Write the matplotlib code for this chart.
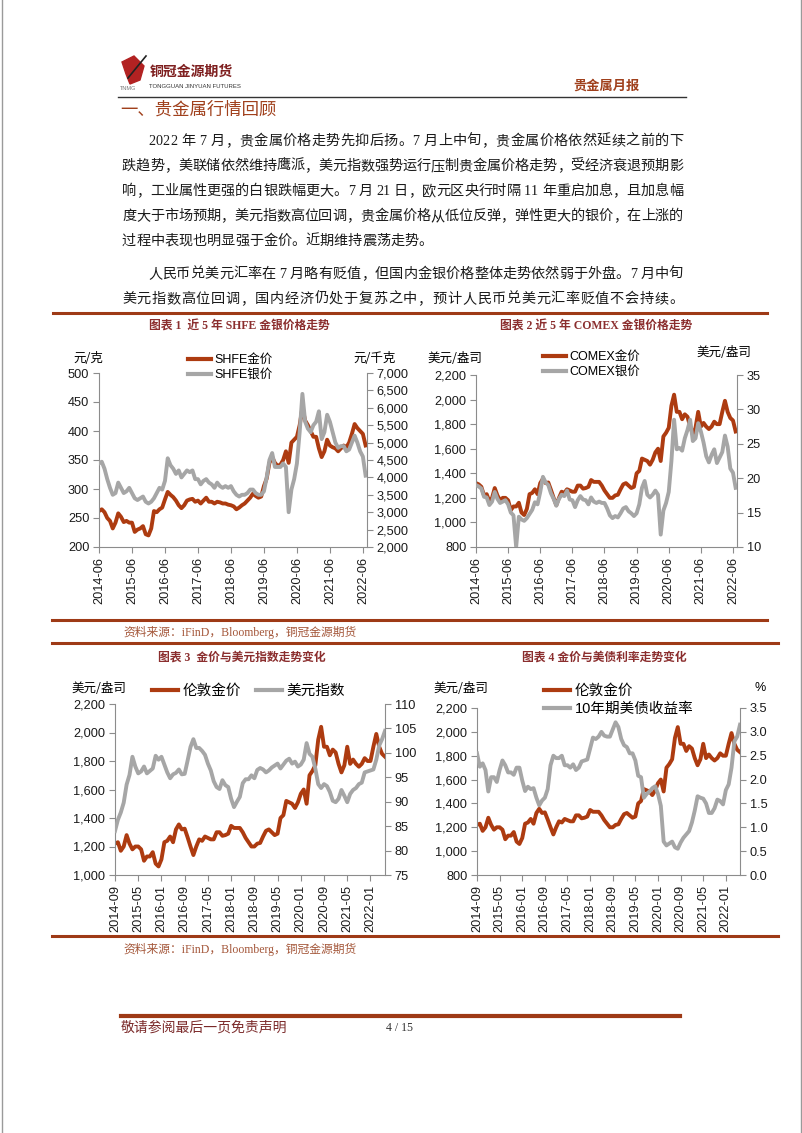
import matplotlib
matplotlib.use('Agg')
import matplotlib.pyplot as plt
import numpy as np
from matplotlib.lines import Line2D
from matplotlib.patches import Polygon
from matplotlib.ticker import FuncFormatter

plt.rcParams['font.family'] = ['Liberation Sans', 'Noto Sans CJK SC']
plt.rcParams['axes.unicode_minus'] = False

# ---- data (monthly) ----
# 2014-06 .. 2022-07
shfe_gold = [262, 265, 260, 250, 245, 232, 242,
             258, 252, 243, 245, 242, 242, 226, 230, 232, 236, 222, 220,
             232, 262, 260, 265, 268, 282, 295, 290, 286, 280, 272, 267,
             272, 280, 282, 283, 278, 280, 275, 280, 285, 278, 278, 275,
             278, 277, 275, 275, 273, 272, 270, 265, 268, 272, 275, 280,
             285, 292, 288, 285, 287, 305, 318, 345, 355, 345, 340, 342,
             350, 365, 345, 380, 385, 390, 410, 440, 418, 410, 400, 390,
             390, 370, 355, 365, 385, 375, 372, 370, 365, 370, 375, 372,
             380, 395, 412, 405, 400, 395, 375]
shfe_silver = [4400, 4450, 4250, 3950, 3700, 3500, 3550,
               3850, 3700, 3550, 3600, 3700, 3550, 3400, 3350, 3400, 3450, 3300, 3250,
               3300, 3400, 3550, 3700, 3650, 3900, 4550, 4350, 4250, 4100, 4200, 4000,
               4100, 4200, 4150, 4200, 3950, 3950, 3800, 3900, 3950, 3850, 3800, 3700,
               3850, 3750, 3700, 3750, 3700, 3750, 3600, 3500, 3450, 3500, 3500, 3550,
               3650, 3650, 3550, 3500, 3500, 3600, 4000, 4500, 4700, 4300, 4300, 4300,
               4400, 4300, 3000, 3650, 3950, 4400, 5300, 6400, 5600, 5400, 5300, 5500,
               5600, 5900, 5100, 5300, 5800, 5600, 5300, 5000, 4850, 4900, 4900, 4750,
               4800, 5000, 5200, 5000, 4750, 4600, 4050]
comex_gold = [1320, 1310, 1290, 1220, 1230, 1170, 1200,
              1280, 1220, 1180, 1200, 1200, 1180, 1100, 1130, 1130, 1160, 1080, 1060,
              1110, 1230, 1240, 1270, 1230, 1320, 1355, 1320, 1325, 1265, 1200, 1140,
              1200, 1250, 1240, 1270, 1260, 1250, 1250, 1300, 1300, 1275, 1280, 1290,
              1345, 1330, 1330, 1330, 1300, 1260, 1230, 1200, 1200, 1220, 1225, 1270,
              1310, 1320, 1300, 1280, 1290, 1400, 1420, 1520, 1510, 1500, 1470, 1510,
              1570, 1600, 1500, 1700, 1730, 1770, 1950, 2040, 1900, 1900, 1840, 1880,
              1860, 1780, 1720, 1770, 1900, 1780, 1810, 1780, 1760, 1780, 1820, 1800,
              1800, 1900, 1990, 1900, 1850, 1830, 1740]
comex_silver = [19.0, 18.8, 18.5, 17.3, 17.2, 16.1, 16.6,
                18.0, 17.0, 16.4, 16.6, 16.8, 16.2, 15.0, 14.6, 10.0, 14.4, 14.0, 13.8,
                14.2, 14.8, 15.4, 16.5, 16.2, 18.0, 20.2, 19.4, 19.0, 17.8, 17.0, 16.0,
                17.0, 17.6, 17.4, 18.2, 16.9, 16.8, 15.8, 16.8, 17.4, 16.9, 16.8, 16.2,
                17.2, 16.6, 16.4, 16.6, 16.4, 16.4, 15.6, 14.6, 14.2, 14.5, 14.3, 14.9,
                15.6, 15.8, 15.2, 14.9, 14.5, 14.9, 16.2, 18.6, 19.6, 17.6, 17.2, 17.6,
                18.2, 17.6, 11.8, 15.3, 16.4, 18.0, 22.5, 28.5, 24.2, 24.4, 24.0, 25.8,
                27.0, 28.5, 25.4, 25.8, 28.0, 26.8, 25.2, 23.2, 22.3, 23.4, 24.2, 22.2,
                23.0, 23.8, 26.2, 24.6, 21.4, 20.8, 18.6]
# 2014-09 .. 2022-06
london_gold = comex_gold[3:97]
usd_index = [84.0, 86.3, 87.8, 89.8,
             93.5, 95.5, 99.2, 97.2, 95.8, 96.2, 97.2, 95.8, 96.3, 96.8, 99.4, 98.6,
             99.2, 97.6, 96.0, 94.8, 95.6, 95.9, 96.6, 95.6, 95.7, 98.4, 101.2, 102.8,
             101.0, 101.0, 100.4, 99.6, 97.8, 96.4, 94.2, 93.0, 92.6, 94.4, 93.4, 93.0,
             90.6, 88.9, 90.0, 91.0, 93.8, 94.6, 94.6, 95.4, 94.8, 96.5, 96.9, 96.6,
             96.0, 96.4, 97.0, 97.4, 97.8, 96.8, 97.6, 98.4, 98.8, 97.8, 98.2, 97.2,
             97.6, 98.6, 102.0, 99.8, 99.2, 96.8, 93.6, 92.8, 93.6, 93.2, 92.0, 90.2,
             89.9, 90.6, 92.4, 91.2, 89.9, 91.6, 92.4, 92.8, 93.6, 93.9, 96.0, 96.2,
             96.4, 96.6, 98.6, 101.5, 102.8, 104.5]
ust10y = [2.55, 2.27, 2.34, 2.20,
          1.75, 2.05, 2.05, 1.95, 2.20, 2.40, 2.30, 2.15, 2.15, 2.10, 2.25, 2.25,
          1.98, 1.76, 1.85, 1.80, 1.82, 1.62, 1.46, 1.56, 1.62, 1.80, 2.30, 2.50,
          2.45, 2.45, 2.50, 2.30, 2.30, 2.25, 2.32, 2.20, 2.25, 2.38, 2.40, 2.42,
          2.65, 2.88, 2.85, 2.90, 3.00, 2.92, 2.90, 2.90, 3.05, 3.20, 3.10, 2.85,
          2.72, 2.68, 2.55, 2.55, 2.40, 2.08, 2.05, 1.62, 1.70, 1.75, 1.82, 1.86,
          1.70, 1.45, 0.70, 0.62, 0.66, 0.70, 0.58, 0.55, 0.68, 0.78, 0.85, 0.92,
          1.10, 1.35, 1.65, 1.62, 1.60, 1.50, 1.30, 1.30, 1.40, 1.58, 1.55, 1.48,
          1.78, 1.90, 2.25, 2.80, 2.90, 3.15]

labels_a = ['2014-06', '2015-06', '2016-06', '2017-06', '2018-06',
            '2019-06', '2020-06', '2021-06', '2022-06']
labels_b = ['2014-09', '2015-05', '2016-01', '2016-09', '2017-05', '2018-01',
            '2018-09', '2019-05', '2020-01', '2020-09', '2021-05', '2022-01']

W, H = 802, 1133
fig = plt.figure(figsize=(W / 100, H / 100), dpi=100)

GOLD_C = '#AD3B10'
SILV_C = '#A6A6A6'
AXIS_C = '#8C8C8C'
RULE_C = '#9E3A16'
TITLE_C = '#8B2E2E'
SRC_C = '#A4573A'
SERIF = ['Liberation Serif', 'Noto Sans CJK SC']
CJK = ['Noto Sans CJK SC', 'DejaVu Sans']
LW = 2.8


def fx(x):
    return x / W


def fy(y):
    return 1 - y / H


def hline(x0, x1, y, c=RULE_C, lw=2.2):
    fig.add_artist(Line2D([fx(x0), fx(x1)], [fy(y), fy(y)], color=c, lw=lw,
                          transform=fig.transFigure))


def chart(box, xs, left, right, ylim, ystep, y2lim, y2step, fmt2, tick_pos, tick_lab, xmax):
    l, t, r, b = box
    ax = fig.add_axes([fx(l), fy(b), (r - l) / W, (b - t) / H])
    ax.plot(xs, left, color=GOLD_C, lw=LW, solid_joinstyle='round')
    ax2 = ax.twinx()
    ax2.plot(xs, right, color=SILV_C, lw=LW, solid_joinstyle='round')
    ax.set_xlim(0, xmax)
    ax.set_ylim(*ylim)
    ax2.set_ylim(*y2lim)
    ax.set_yticks(np.arange(ylim[0], ylim[1] + 1e-9, ystep))
    ax2.set_yticks(np.arange(y2lim[0], y2lim[1] + 1e-9, y2step))
    ax.yaxis.set_major_formatter(FuncFormatter(lambda v, p: f'{v:,.0f}'))
    ax2.yaxis.set_major_formatter(FuncFormatter(fmt2))
    ax.set_xticks(tick_pos)
    ax.set_xticklabels(tick_lab, rotation=90)
    for a in (ax, ax2):
        for s in a.spines.values():
            s.set_color(AXIS_C)
        a.spines['top'].set_visible(False)
        a.tick_params(colors=AXIS_C, labelcolor='#1a1a1a', labelsize=9.2,
                      length=4, width=0.8, direction='out', pad=3)
        a.patch.set_visible(False)
    ax.spines['right'].set_visible(False)
    ax2.spines['left'].set_visible(False)
    ax2.spines['bottom'].set_visible(False)
    return ax, ax2


def legend(ax, labels, x, y, fs, ncol=1):
    h = [Line2D([], [], color=GOLD_C, lw=3), Line2D([], [], color=SILV_C, lw=3)]
    ax.legend(h, labels, loc='upper left', bbox_to_anchor=(fx(x), fy(y)),
              bbox_transform=fig.transFigure, frameon=False, fontsize=fs,
              handlelength=1.8, handletextpad=0.3, labelspacing=0.25,
              borderpad=0, borderaxespad=0, ncol=ncol, columnspacing=1.0)


# ---- page decoration ----
fig.add_artist(Line2D([fx(1.5), fx(1.5)], [0, 1], color='#9a9a9a', lw=1, transform=fig.transFigure))
fig.add_artist(Line2D([fx(800.5), fx(800.5)], [0, 1], color='#9a9a9a', lw=1, transform=fig.transFigure))

# logo
fig.add_artist(Polygon([[fx(122), fy(62)], [fx(134), fy(56)], [fx(144), fy(66)], [fx(140), fy(80)],
                        [fx(130), fy(84)], [fx(126), fy(74)]], closed=True, color='#B22222',
                       transform=fig.transFigure))
fig.add_artist(Line2D([fx(128), fx(146)], [fy(78), fy(56)], color='#222', lw=1.2,
                      transform=fig.transFigure))
fig.text(fx(150), fy(72), '铜冠金源期货', family=CJK, fontsize=10, fontweight='bold',
         color='#7E1F1F', va='center')
fig.text(fx(149), fy(87), 'TONGGUAN JINYUAN FUTURES', fontsize=4.3, color='#333', va='center')
fig.text(fx(120), fy(89), 'TNMG', fontsize=4, color='#777', va='center')
fig.text(fx(640), fy(86), '贵金属月报', family=CJK, fontsize=9.5, fontweight='bold',
         color='#A0401C', ha='right', va='center')
hline(118, 686, 97, c='#333333', lw=1)
fig.text(fx(120), fy(110), '一、贵金属行情回顾', family=CJK, fontsize=12.5,
         color='#A0401C', va='center')

# body text, justified by hand
body = [
    ('2022 年 7 月，贵金属价格走势先抑后扬。7 月上中旬，贵金属价格依然延续之前的下', 148, 140, True),
    ('跌趋势，美联储依然维持鹰派，美元指数强势运行压制贵金属价格走势，受经济衰退预期影', 122, 165, True),
    ('响，工业属性更强的白银跌幅更大。7 月 21 日，欧元区央行时隔 11 年重启加息，且加息幅', 122, 190, True),
    ('度大于市场预期，美元指数高位回调，贵金属价格从低位反弹，弹性更大的银价，在上涨的', 122, 215, True),
    ('过程中表现也明显强于金价。近期维持震荡走势。', 122, 240, False),
    ('人民币兑美元汇率在 7 月略有贬值，但国内金银价格整体走势依然弱于外盘。7 月中旬', 148, 273, True),
    ('美元指数高位回调，国内经济仍处于复苏之中，预计人民币兑美元汇率贬值不会持续。', 122, 298, True),
]
BODY_FS = 10.2
rend = fig.canvas.get_renderer()
widths = {}
for line, x0, yc, just in body:
    for ch in line:
        if ch not in widths:
            if ch == ' ':
                widths[ch] = BODY_FS * 100 / 72 * 0.25
            else:
                t = fig.text(0, 0, ch, fontsize=BODY_FS, family=SERIF)
                widths[ch] = t.get_window_extent(rend).width
                t.remove()
for line, x0, yc, just in body:
    tot = sum(widths[c] for c in line)
    gap = (683 - x0 - tot) / (len(line) - 1) if just else 0
    x = x0
    for ch in line:
        if ch != ' ':
            fig.text(fx(x), fy(yc + 5), ch, fontsize=BODY_FS, family=SERIF,
                     color='#1a1a1a', va='baseline')
        x += widths[ch] + gap

# rules and captions around the charts
hline(53, 767, 313)
hline(52, 767, 620)
hline(52, 778, 643)
hline(52, 778, 936)
hline(121, 680, 1016, lw=3)
for txt, cx, cy in [('图表 1  近 5 年 SHFE 金银价格走势', 239, 327),
                    ('图表 2 近 5 年 COMEX 金银价格走势', 596, 327),
                    ('图表 3  金价与美元指数走势变化', 242, 658),
                    ('图表 4 金价与美债利率走势变化', 604, 658)]:
    fig.text(fx(cx), fy(cy), txt, family=SERIF, fontsize=8.5, fontweight='bold',
             color=TITLE_C, ha='center', va='center')
for cy in (632, 949):
    fig.text(fx(123), fy(cy), '资料来源：iFinD，Bloomberg，铜冠金源期货', family=SERIF,
             fontsize=8.5, color=SRC_C, va='center')
fig.text(fx(121), fy(1028), '敬请参阅最后一页免责声明', family=CJK, fontsize=10,
         style='italic', color='#7B2A2A', va='center')
fig.text(fx(386), fy(1028), '4 / 15', family=SERIF, fontsize=8.5, color='#333', va='center')

# ---- chart 1 ----
xa = np.arange(len(shfe_gold))
ax, ax2 = chart((99, 373, 367, 547), xa, shfe_gold, shfe_silver, (200, 500), 50,
                (2000, 7000), 500, lambda v, p: f'{v:,.0f}', np.arange(0, 97, 12), labels_a, 97.5)
legend(ax2, ['SHFE金价', 'SHFE银价'], 188, 354, 9)
fig.text(fx(88), fy(359), '元/克', family=CJK, fontsize=9, ha='center', va='center')
fig.text(fx(375), fy(358), '元/千克', family=CJK, fontsize=9, ha='center', va='center')

# ---- chart 2 ----
ax, ax2 = chart((476, 375, 737, 547), xa, comex_gold, comex_silver, (800, 2200), 200,
                (10, 35), 5, lambda v, p: f'{v:.0f}', np.arange(0, 97, 12), labels_a, 97.5)
legend(ax2, ['COMEX金价', 'COMEX银价'], 543, 351, 9)
fig.text(fx(455), fy(359), '美元/盎司', family=CJK, fontsize=9, ha='center', va='center')
fig.text(fx(724), fy(353), '美元/盎司', family=CJK, fontsize=9, ha='center', va='center')

# ---- chart 3 ----
xb = np.arange(len(london_gold))
ax, ax2 = chart((115, 704, 385, 875), xb, london_gold, usd_index, (1000, 2200), 200,
                (75, 110), 5, lambda v, p: f'{v:.0f}', np.arange(0, 89, 8), labels_b, 93)
legend(ax2, ['伦敦金价', '美元指数'], 152, 684, 10.5, ncol=2)
fig.text(fx(99), fy(689), '美元/盎司', family=CJK, fontsize=9, ha='center', va='center')

# ---- chart 4 ----
ax, ax2 = chart((477, 708, 740, 875), xb, london_gold, ust10y, (800, 2200), 200,
                (0, 3.5), 0.5, lambda v, p: f'{v:.1f}', np.arange(0, 89, 8), labels_b, 93)
legend(ax2, ['伦敦金价', '10年期美债收益率'], 544, 684, 10.5)
fig.text(fx(461), fy(689), '美元/盎司', family=CJK, fontsize=9, ha='center', va='center')
fig.text(fx(760), fy(688), '%', fontsize=9, ha='center', va='center')

fig.savefig('out.png', dpi=100)
